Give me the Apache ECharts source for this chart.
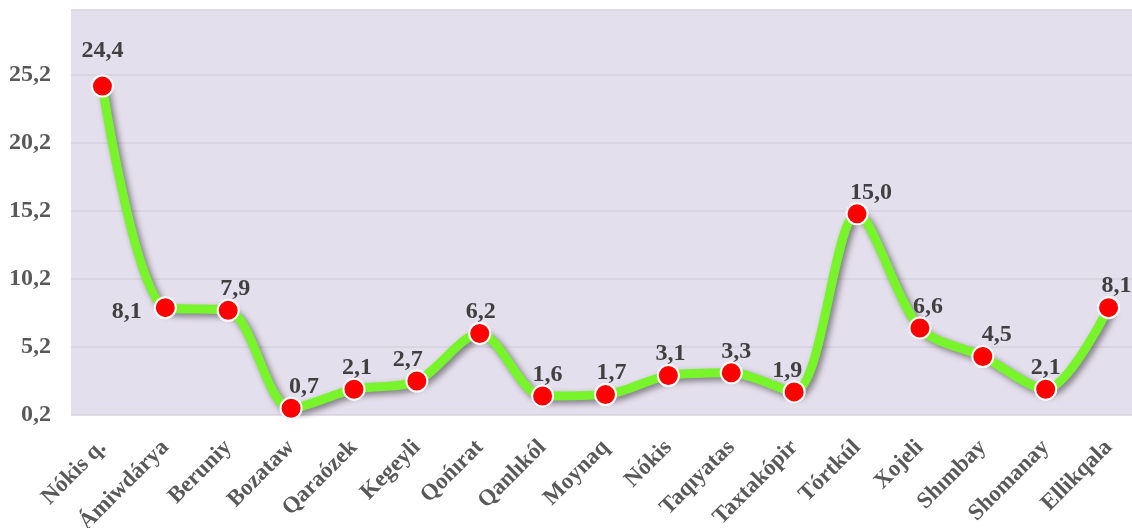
<!DOCTYPE html>
<html><head><meta charset="utf-8">
<script src="https://cdn.jsdelivr.net/npm/echarts@6/dist/echarts.min.js"></script>
<style>html,body{margin:0;padding:0;background:#fff}#c{width:1132px;height:528px}</style>
</head><body><div id="c"></div>
<script>
const categories = ['Nókis q.','Ámiwdárya','Beruniy','Bozataw','Qaraózek','Kegeyli','Qońırat','Qanlıkól','Moynaq','Nókis','Taqıyatas','Taxtakópir','Tórtkúl','Xojeli','Shımbay','Shomanay','Ellikqala'];
const values = [24.4, 8.1, 7.9, 0.7, 2.1, 2.7, 6.2, 1.6, 1.7, 3.1, 3.3, 1.9, 15.0, 6.6, 4.5, 2.1, 8.1];
const yMin = 0.2, yMax = 30, yStep = 5;

// horizontal / vertical nudges of the value labels (px), as placed in the original
const labelNudgeX = [0, 0, 7, 13, 3, -9, 1, 5, 6, 2, 5, -7, 14, 8, 14, 0, 8];
const labelNudgeY = [-14, 0, 0, 0, 0, 0, 0, 0, 0, 0, 0, 0, 0, 0, 0, 0, 0];

const fmt = v => v.toFixed(1).replace('.', ',');
const font = '"Liberation Serif","Times New Roman",serif';

const data = values.map((v, i) => {
  const d = { value: v, label: { offset: [labelNudgeX[i], labelNudgeY[i]] } };
  if (i === 1) d.label = { position: 'left', distance: 12, offset: [0, 4] };
  return d;
});

const chart = echarts.init(document.getElementById('c'));
chart.setOption({
  animation: false,
  grid: { left: 71, right: -8, top: 10, bottom: 113, show: true, backgroundColor: '#e4dfec', borderWidth: 0,
          containLabel: false, outerBoundsMode: 'none' },
  xAxis: {
    type: 'category', data: categories, boundaryGap: true,
    axisLine: { show: false }, axisTick: { show: false },
    axisLabel: { rotate: 45, interval: 0, margin: 29, fontFamily: font, fontWeight: 'bold', fontSize: 23, color: '#595959' }
  },
  yAxis: {
    type: 'value', min: yMin, max: yMax, interval: yStep,
    axisLine: { show: false }, axisTick: { show: false },
    axisLabel: { margin: 20, fontFamily: font, fontWeight: 'bold', fontSize: 24, color: '#595959', showMaxLabel: false,
      formatter: v => (Math.abs(v - yMax) < 1e-6 ? '' : fmt(v)) },
    splitLine: { lineStyle: { color: '#d6d2dc', width: 1.5 } }
  },
  series: [{
    type: 'line', data: data, smooth: 0.3,
    lineStyle: { color: '#77f52a', width: 9, shadowColor: 'rgba(0,0,0,0.45)', shadowBlur: 6, shadowOffsetX: 3, shadowOffsetY: 3 },
    symbol: 'circle', symbolSize: 21,
    itemStyle: { color: '#ff0000', borderColor: '#ffffff', borderWidth: 2 },
    label: { show: true, position: 'top', distance: -2, formatter: p => fmt(p.value),
      fontFamily: font, fontWeight: 'bold', fontSize: 24, color: '#404040' }
  }]
});
</script></body></html>
